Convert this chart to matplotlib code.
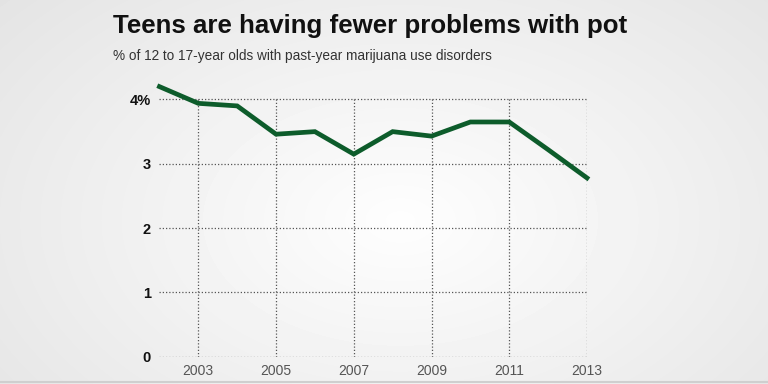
import numpy as np
import matplotlib.pyplot as plt

years = [2002, 2003, 2004, 2005, 2006, 2007, 2008, 2009, 2010, 2011, 2012, 2013]
pct = [4.2, 3.94, 3.90, 3.46, 3.50, 3.15, 3.50, 3.43, 3.65, 3.65, 3.22, 2.78]
x_ticks = [2003, 2005, 2007, 2009, 2011, 2013]
y_ticks = [0, 1, 2, 3, 4]
y_labels = ['0', '1', '2', '3', '4%']

fig = plt.figure(figsize=(7.68, 3.84), dpi=100)

# soft radial background, lighter in the middle
bg = fig.add_axes([0, 0, 1, 1], zorder=-1)
yy, xx = np.mgrid[0:384, 0:768]
r = np.sqrt(((xx - 400) / 520.0) ** 2 + ((yy - 220) / 330.0) ** 2)
shade = np.clip(0.995 - 0.1 * r, 0.88, 1.0)
bg.imshow(shade, cmap='gray', vmin=0, vmax=1, aspect='auto', extent=[0, 1, 0, 1])
bg.axis('off')
bg.plot([0, 1], [0.004, 0.004], color='#cfcfcf', lw=1.5, transform=bg.transAxes)

ax = fig.add_axes([0.2076, 0.0711, 0.5567, 0.7117])
ax.set_facecolor('none')

# dotted grid
ax.hlines(y_ticks, 2002, 2013, colors='#555555', linestyles=(0, (1, 1.6)), lw=0.9, zorder=1)
ax.vlines(x_ticks, 0, 4, colors='#555555', linestyles=(0, (1, 1.6)), lw=0.9, zorder=1)

ax.plot(years, pct, color='#0d5c2b', lw=3.4, solid_joinstyle='miter', zorder=3, clip_on=False)

ax.set_xlim(2002, 2013)
ax.set_ylim(0, 4.25)
for s in ax.spines.values():
    s.set_visible(False)
ax.set_xticks(x_ticks)
ax.set_xticklabels([str(y) for y in x_ticks], color='#555555', fontsize=10, family='Liberation Sans')
ax.set_yticks(y_ticks)
ax.set_yticklabels(y_labels, fontweight='bold', fontsize=10.5, family='Liberation Sans', color='#111111')
ax.tick_params(length=0, pad=6)
ax.tick_params(axis='x', pad=5)

fig.text(0.147, 0.915, 'Teens are having fewer problems with pot', fontsize=18.6, fontweight='bold',
         family='Liberation Sans', color='#111111', va='baseline')
fig.text(0.147, 0.845, '% of 12 to 17-year olds with past-year marijuana use disorders', fontsize=9.8,
         family='Liberation Sans', color='#333333', va='baseline')

fig.savefig('out.png', dpi=100)
